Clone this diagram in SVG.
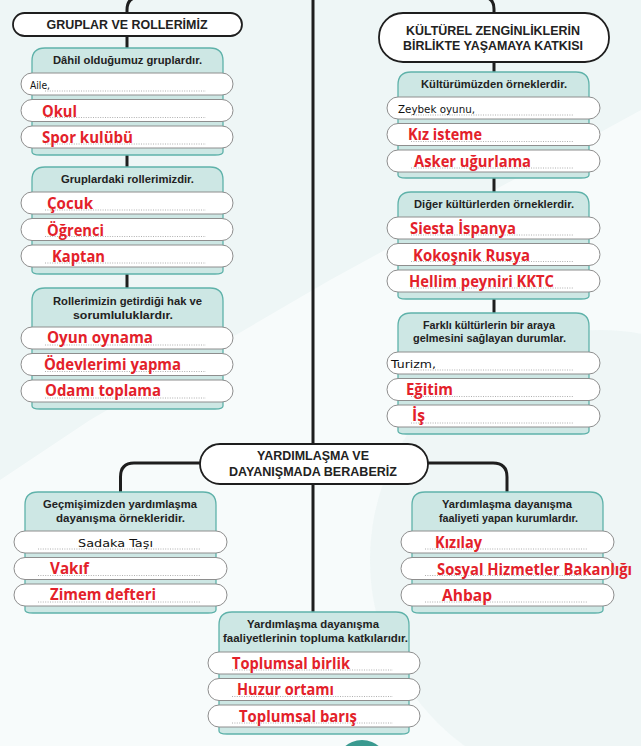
<svg xmlns="http://www.w3.org/2000/svg" width="641" height="746" viewBox="0 0 641 746">
<style>
.box{fill:#cde7e4;stroke:#5fb2aa;stroke-width:1.3}
.row{fill:#fff;stroke:#8e8e8e;stroke-width:1}
.dots{stroke:#9a9a9a;stroke-width:0.8;stroke-dasharray:1 1.4}
.pill{fill:#fff;stroke:#1e1e1e;stroke-width:1.8}
.conn{fill:none;stroke:#1e1e1e;stroke-width:3}
.hd{font-family:"Liberation Sans",Arial,sans-serif;font-weight:bold;font-size:10.5px;fill:#222;text-anchor:middle}
.ttl{font-family:"Liberation Sans",Arial,sans-serif;font-weight:bold;font-size:12px;fill:#222;text-anchor:middle}
.ans{font-family:"Open Sans",Lato,sans-serif;font-weight:bold;font-size:15.5px;fill:#e3212a}
.hw{font-family:"DejaVu Sans",sans-serif;font-size:10.5px;fill:#111}
</style>
<rect width="641" height="746" fill="#eef6f6"/>
<polygon points="0,480 90,420 330,280 641,110 641,746 0,746" fill="#ffffff" opacity="0.55"/>
<circle cx="600" cy="560" r="230" fill="#e9f3f3" opacity="0.6"/>

<g id="connectors">
<path class="conn" d="M313,0 V444 M313,484 V612"/>
<path class="conn" d="M140,-3 Q127,-3 127,10 V13 M127,36 V48 M127,152 V167 M127,271 V288"/>
<path class="conn" d="M482,-3 Q494,-3 494,9 V13 M494,62 V72 M494,175 V192 M494,296 V313"/>
<path class="conn" d="M200,463 H134 Q120.5,463 120.5,477 V492"/>
<path class="conn" d="M428,463 H493 Q507,463 507,477 V492"/>
</g>

<g id="title-gruplar">
<rect class="pill" x="13" y="13" width="229" height="23" rx="11.5"/>
<text class="ttl" x="127" y="29" textLength="161" lengthAdjust="spacingAndGlyphs">GRUPLAR VE ROLLERİMİZ</text>
</g>

<g id="title-kultur">
<rect class="pill" x="379" y="13" width="230" height="49" rx="24"/>
<text class="ttl" x="493" y="35" textLength="174" lengthAdjust="spacingAndGlyphs">KÜLTÜREL ZENGİNLİKLERİN</text>
<text class="ttl" x="493" y="49.5" textLength="180" lengthAdjust="spacingAndGlyphs">BİRLİKTE YAŞAMAYA KATKISI</text>
</g>

<g id="title-yardim">
<rect class="pill" x="200" y="444" width="228" height="40" rx="20"/>
<text class="ttl" x="313" y="459.5" textLength="112" lengthAdjust="spacingAndGlyphs">YARDIMLAŞMA VE</text>
<text class="ttl" x="313" y="476" textLength="168" lengthAdjust="spacingAndGlyphs">DAYANIŞMADA BERABERİZ</text>
</g>

<g id="box-gruplar">
<path class="box" d="M32,152 V61 Q32,48 45,48 H210 Q223,48 223,61 V152 Q223,155 215,155 H40 Q32,155 32,152 Z"/>
<text class="hd" x="127.5" y="64" textLength="149" lengthAdjust="spacingAndGlyphs">Dâhil olduğumuz gruplardır.</text>
<rect class="row" x="21" y="73" width="212" height="22" rx="11"/>
<rect class="row" x="21" y="99.5" width="212" height="22" rx="11"/>
<rect class="row" x="21" y="126" width="212" height="22" rx="11"/>
<path class="dots" d="M45,91 H206 M45,117.5 H206 M45,144 H206"/>
<text class="hw" x="30" y="89" textLength="20" lengthAdjust="spacingAndGlyphs">Aile,</text>
<text class="ans" x="42" y="116.5" textLength="35" lengthAdjust="spacingAndGlyphs">Okul</text>
<text class="ans" x="42" y="143" textLength="91" lengthAdjust="spacingAndGlyphs">Spor kulübü</text>
</g>

<g id="box-roller">
<path class="box" d="M32,271 V180 Q32,167 45,167 H210 Q223,167 223,180 V271 Q223,274 215,274 H40 Q32,274 32,271 Z"/>
<text class="hd" x="127.5" y="183" textLength="133" lengthAdjust="spacingAndGlyphs">Gruplardaki rollerimizdir.</text>
<rect class="row" x="21" y="192" width="212" height="22" rx="11"/>
<rect class="row" x="21" y="218.5" width="212" height="22" rx="11"/>
<rect class="row" x="21" y="245" width="212" height="22" rx="11"/>
<path class="dots" d="M45,210 H206 M45,236.5 H206 M45,263 H206"/>
<text class="ans" x="47" y="209" textLength="46" lengthAdjust="spacingAndGlyphs">Çocuk</text>
<text class="ans" x="47" y="235.5" textLength="57" lengthAdjust="spacingAndGlyphs">Öğrenci</text>
<text class="ans" x="52" y="262" textLength="53" lengthAdjust="spacingAndGlyphs">Kaptan</text>
</g>

<g id="box-haklar">
<path class="box" d="M32,406 V301 Q32,288 45,288 H210 Q223,288 223,301 V406 Q223,409 215,409 H40 Q32,409 32,406 Z"/>
<text class="hd" x="127.5" y="305" textLength="149" lengthAdjust="spacingAndGlyphs">Rollerimizin getirdiği hak ve</text>
<text class="hd" x="123" y="319" textLength="100" lengthAdjust="spacingAndGlyphs">sorumluluklardır.</text>
<rect class="row" x="21" y="327" width="212" height="22" rx="11"/>
<rect class="row" x="21" y="353.5" width="212" height="22" rx="11"/>
<rect class="row" x="21" y="380" width="212" height="22" rx="11"/>
<path class="dots" d="M45,345 H206 M45,371.5 H206 M45,398 H206"/>
<text class="ans" x="47" y="343" textLength="106" lengthAdjust="spacingAndGlyphs">Oyun oynama</text>
<text class="ans" x="44" y="369.5" textLength="137" lengthAdjust="spacingAndGlyphs">Ödevlerimi yapma</text>
<text class="ans" x="45" y="396" textLength="116" lengthAdjust="spacingAndGlyphs">Odamı toplama</text>
</g>

<g id="box-kulturumuz">
<path class="box" d="M398,175 V85 Q398,72 411,72 H576 Q589,72 589,85 V175 Q589,178 581,178 H406 Q398,178 398,175 Z"/>
<text class="hd" x="494" y="88" textLength="146" lengthAdjust="spacingAndGlyphs">Kültürümüzden örneklerdir.</text>
<rect class="row" x="387" y="97" width="213" height="22" rx="11"/>
<rect class="row" x="387" y="123.5" width="213" height="22" rx="11"/>
<rect class="row" x="387" y="150" width="213" height="22" rx="11"/>
<path class="dots" d="M411,115 H573 M411,141.5 H573 M411,168 H573"/>
<text class="hw" x="398" y="113" textLength="77" lengthAdjust="spacingAndGlyphs">Zeybek oyunu,</text>
<text class="ans" x="408" y="140" textLength="74" lengthAdjust="spacingAndGlyphs">Kız isteme</text>
<text class="ans" x="414" y="166.5" textLength="117" lengthAdjust="spacingAndGlyphs">Asker uğurlama</text>
</g>

<g id="box-diger">
<path class="box" d="M398,296 V205 Q398,192 411,192 H576 Q589,192 589,205 V296 Q589,299 581,299 H406 Q398,299 398,296 Z"/>
<text class="hd" x="494" y="208" textLength="160" lengthAdjust="spacingAndGlyphs">Diğer kültürlerden örneklerdir.</text>
<rect class="row" x="387" y="217" width="213" height="22" rx="11"/>
<rect class="row" x="387" y="243.5" width="213" height="22" rx="11"/>
<rect class="row" x="387" y="270" width="213" height="22" rx="11"/>
<path class="dots" d="M411,235 H573 M411,261.5 H573 M411,288 H573"/>
<text class="ans" x="410" y="234" textLength="106" lengthAdjust="spacingAndGlyphs">Siesta İspanya</text>
<text class="ans" x="413" y="260.5" textLength="117" lengthAdjust="spacingAndGlyphs">Kokoşnik Rusya</text>
<text class="ans" x="409" y="286.5" textLength="145" lengthAdjust="spacingAndGlyphs">Hellim peyniri KKTC</text>
</g>

<g id="box-farkli">
<path class="box" d="M398,431 V326 Q398,313 411,313 H576 Q589,313 589,326 V431 Q589,434 581,434 H406 Q398,434 398,431 Z"/>
<text class="hd" x="489" y="329" textLength="132" lengthAdjust="spacingAndGlyphs">Farklı kültürlerin bir araya</text>
<text class="hd" x="489.5" y="342" textLength="153" lengthAdjust="spacingAndGlyphs">gelmesini sağlayan durumlar.</text>
<rect class="row" x="387" y="352" width="213" height="22" rx="11"/>
<rect class="row" x="387" y="378.5" width="213" height="22" rx="11"/>
<rect class="row" x="387" y="405" width="213" height="22" rx="11"/>
<path class="dots" d="M411,370 H573 M411,396.5 H573 M411,423 H573"/>
<text class="hw" x="391" y="368" textLength="45" lengthAdjust="spacingAndGlyphs">Turizm,</text>
<text class="ans" x="406" y="394.5" textLength="47" lengthAdjust="spacingAndGlyphs">Eğitim</text>
<text class="ans" x="412" y="421" textLength="13" lengthAdjust="spacingAndGlyphs">İş</text>
</g>

<g id="box-gecmis">
<path class="box" d="M25,610 V505 Q25,492 38,492 H203 Q216,492 216,505 V610 Q216,613 208,613 H33 Q25,613 25,610 Z"/>
<text class="hd" x="120" y="508" textLength="154" lengthAdjust="spacingAndGlyphs">Geçmişimizden yardımlaşma</text>
<text class="hd" x="120.5" y="522" textLength="129" lengthAdjust="spacingAndGlyphs">dayanışma örnekleridir.</text>
<rect class="row" x="14" y="531" width="213" height="22" rx="11"/>
<rect class="row" x="14" y="557.5" width="213" height="22" rx="11"/>
<rect class="row" x="14" y="584" width="213" height="22" rx="11"/>
<path class="dots" d="M38,549 H200 M38,575.5 H200 M38,602 H200"/>
<text class="hw" x="78" y="547" textLength="75" lengthAdjust="spacingAndGlyphs">Sadaka Taşı</text>
<text class="ans" x="50" y="573.5" textLength="39" lengthAdjust="spacingAndGlyphs">Vakıf</text>
<text class="ans" x="50" y="600" textLength="106" lengthAdjust="spacingAndGlyphs">Zimem defteri</text>
</g>

<g id="box-kurumlar">
<path class="box" d="M412,610 V505 Q412,492 425,492 H590 Q603,492 603,505 V610 Q603,613 595,613 H420 Q412,613 412,610 Z"/>
<text class="hd" x="507" y="508" textLength="130" lengthAdjust="spacingAndGlyphs">Yardımlaşma dayanışma</text>
<text class="hd" x="508.5" y="522" textLength="139" lengthAdjust="spacingAndGlyphs">faaliyeti yapan kurumlardır.</text>
<rect class="row" x="401" y="531" width="213" height="22" rx="11"/>
<rect class="row" x="401" y="557.5" width="213" height="22" rx="11"/>
<rect class="row" x="401" y="584" width="213" height="22" rx="11"/>
<path class="dots" d="M425,549 H587 M425,575.5 H587 M425,602 H587"/>
<text class="ans" x="435" y="548" textLength="47" lengthAdjust="spacingAndGlyphs">Kızılay</text>
<text class="ans" x="437" y="574.5" textLength="195" lengthAdjust="spacingAndGlyphs">Sosyal Hizmetler Bakanlığı</text>
<text class="ans" x="442" y="601" textLength="50" lengthAdjust="spacingAndGlyphs">Ahbap</text>
</g>

<g id="box-katkilar">
<path class="box" d="M219,731 V625 Q219,612 232,612 H396 Q409,612 409,625 V731 Q409,734 401,734 H227 Q219,734 219,731 Z"/>
<text class="hd" x="313" y="627.5" textLength="132" lengthAdjust="spacingAndGlyphs">Yardımlaşma dayanışma</text>
<text class="hd" x="315.5" y="642" textLength="185" lengthAdjust="spacingAndGlyphs">faaliyetlerinin topluma katkılarıdır.</text>
<rect class="row" x="208" y="652" width="212" height="22" rx="11"/>
<rect class="row" x="208" y="678.5" width="212" height="22" rx="11"/>
<rect class="row" x="208" y="705" width="212" height="22" rx="11"/>
<path class="dots" d="M232,670 H393 M232,696.5 H393 M232,723 H393"/>
<text class="ans" x="232" y="668.5" textLength="118" lengthAdjust="spacingAndGlyphs">Toplumsal birlik</text>
<text class="ans" x="237" y="695" textLength="97" lengthAdjust="spacingAndGlyphs">Huzur ortamı</text>
<text class="ans" x="239" y="721.5" textLength="118" lengthAdjust="spacingAndGlyphs">Toplumsal barış</text>
</g>

<circle cx="362" cy="766" r="26" fill="#3a9a90"/>
</svg>
